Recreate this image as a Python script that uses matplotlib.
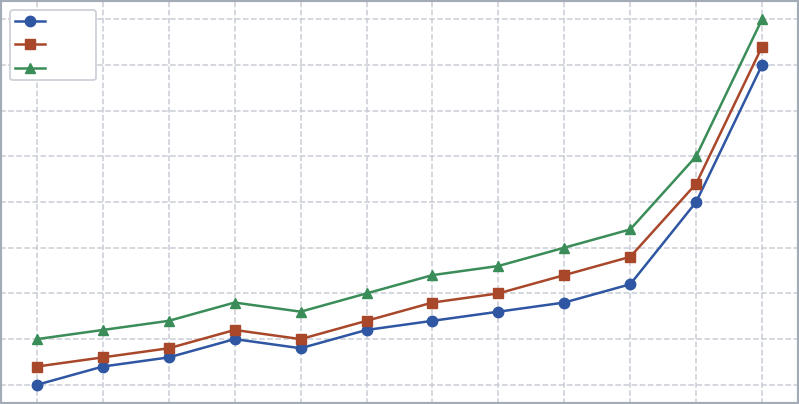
from matplotlib import pyplot as plt

# values
x = list(range(12))
blue = [0, 4, 6, 10, 8, 12, 14, 16, 18, 22, 40, 70]
red = [4, 6, 8, 12, 10, 14, 18, 20, 24, 28, 44, 74]
green = [10, 12, 14, 18, 16, 20, 24, 26, 30, 34, 50, 80]
labels = ['        ', '        ', '        ']


def main():
    fig = plt.figure(figsize=(7.99, 4.04), dpi=100)
    ax = fig.add_axes([0, 0, 1, 1])
    ax.plot(x, blue, c='#2f56a2', marker='o', ms=7.5, lw=1.8, label=labels[0])
    ax.plot(x, red, c='#a9472b', marker='s', ms=7, lw=1.8, label=labels[1])
    ax.plot(x, green, c='#3a8d58', marker='^', ms=7.5, lw=1.8, label=labels[2])
    ax.set_xlim(-0.56, 11.56)
    ax.set_ylim(-4.2, 84.2)
    ax.set_xticks(x)
    ax.set_yticks(range(0, 81, 10))
    ax.tick_params(length=0, labelbottom=False, labelleft=False)
    ax.grid(ls='--', c='#c9cdd5', lw=1.1)
    ax.set_axisbelow(True)
    for s in ax.spines.values():
        s.set_color('#a3abb7')
        s.set_linewidth(3)
    leg = ax.legend(loc='upper left', fancybox=True, framealpha=1,
                    edgecolor='#c9cdd5', borderpad=0.35, borderaxespad=0.7,
                    labelspacing=0.68, handlelength=2.2)
    leg.get_frame().set_linewidth(1.2)
    fig.savefig('out.png')


if __name__ == '__main__':
    main()
